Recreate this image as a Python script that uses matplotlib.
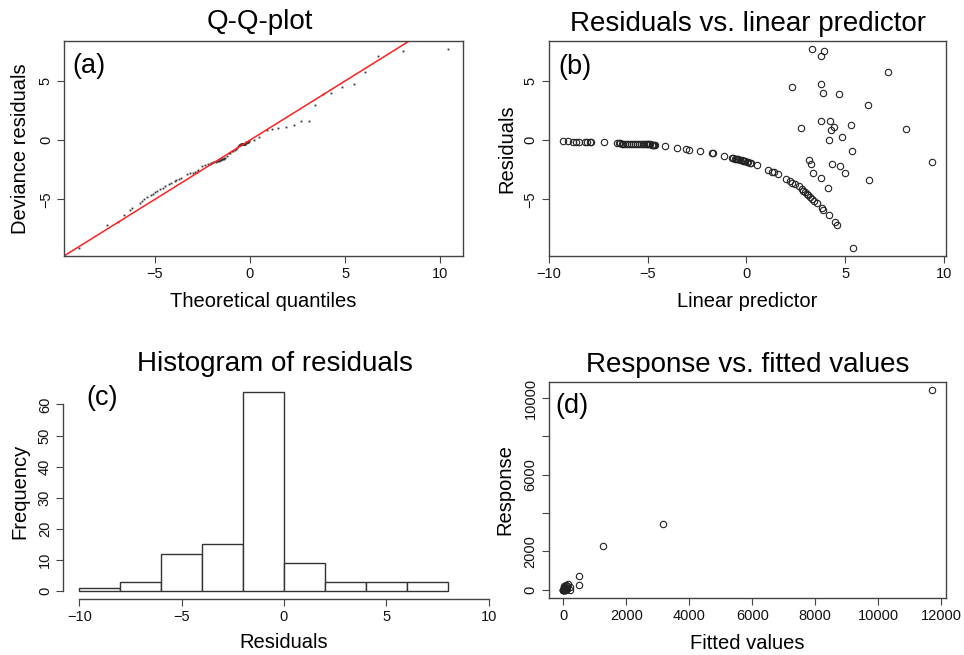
import numpy as np
import matplotlib
matplotlib.use("Agg")
import matplotlib.pyplot as plt

plt.rcParams['font.family'] = ['Liberation Sans', 'DejaVu Sans']

# linear predictor and deviance residuals of the fitted model
eta = [
    -9.26, -9.04, -8.80, -8.62, -8.45, -8.15, -8.05, -7.92, -7.85, -7.22,
    -6.55, -6.45, -6.38, -6.30, -6.22, -6.12, -6.02, -5.95, -5.85, -5.75,
    -5.65, -5.55, -5.45, -5.35, -5.25, -5.18, -5.10, -5.04, -4.98, -4.92,
    -4.86, -4.80, -4.75, -4.70, -4.66, -4.63,
    -4.11, -3.52, -3.05, -2.88, -2.34, -1.74, -1.70, -1.13,
    -0.72, -0.66, -0.58, -0.52, -0.45, -0.40, -0.30, -0.23, -0.18, -0.12,
    -0.05, 0.02, 0.10, 0.19, 0.26,
    0.52, 1.08, 1.28, 1.41, 1.62, 2.00, 2.20, 2.29, 2.46, 2.68,
    2.80, 2.88, 2.96, 3.05, 3.14, 3.24, 3.34, 3.44, 3.56, 3.85, 3.90,
    4.19, 4.48, 4.60,
    3.35, 3.91, 3.79, 7.15, 2.31, 3.77, 3.87, 4.71, 6.18, 3.77,
    4.23, 2.78, 4.44, 4.29, 5.29, 8.06, 4.83, 4.21, 5.34, 9.38,
    3.15, 3.28, 4.33, 4.76, 3.40, 4.98, 3.77, 6.20, 4.12, 5.42,
]
resid = [
    -0.10, -0.10, -0.11, -0.11, -0.12, -0.12, -0.12, -0.13, -0.13, -0.17,
    -0.26, -0.27, -0.27, -0.28, -0.28, -0.29, -0.29, -0.30, -0.30, -0.31,
    -0.31, -0.32, -0.32, -0.33, -0.33, -0.34, -0.34, -0.35, -0.35, -0.36,
    -0.36, -0.37, -0.38, -0.39, -0.40, -0.41,
    -0.52, -0.66, -0.76, -0.79, -0.92, -1.10, -1.12, -1.32,
    -1.48, -1.52, -1.55, -1.57, -1.60, -1.62, -1.66, -1.70, -1.72, -1.75,
    -1.78, -1.82, -1.86, -1.90, -1.93,
    -2.10, -2.52, -2.66, -2.72, -2.89, -3.28, -3.45, -3.60, -3.70, -3.90,
    -4.15, -4.28, -4.40, -4.52, -4.66, -4.82, -4.97, -5.12, -5.28, -5.72, -5.86,
    -6.28, -6.89, -7.12,
    7.70, 7.53, 7.11, 5.79, 4.49, 4.78, 3.96, 3.90, 2.98, 1.66,
    1.66, 1.07, 1.15, 0.87, 1.32, 0.93, 0.28, 0.05, -0.87, -1.80,
    -1.69, -1.99, -1.99, -2.16, -2.78, -2.78, -3.20, -3.37, -4.07, -9.10,
]

# theoretical quantiles, one per sorted residual
qq_theory = [
    -8.99, -7.50, -6.94, -6.59, -6.31, -6.22, -5.79, -5.66, -5.58, -5.40,
    -5.20, -5.09, -5.00, -4.88, -4.70, -4.55, -4.45, -4.25, -4.12, -3.95,
    -3.86, -3.70, -3.60, -3.33, -3.15, -2.98, -2.90, -2.80, -2.70, -2.54,
    -2.35, -2.20, -2.12, -2.05, -1.98, -1.92, -1.86, -1.80, -1.74, -1.68,
    -1.62, -1.58, -1.55, -1.52, -1.48, -1.45, -1.42, -1.38, -1.34, -1.30,
    -1.22, -1.12, -1.05, -0.95, -0.88, -0.80, -0.74, -0.68, -0.62,
    -0.55, -0.54, -0.52, -0.51, -0.50, -0.48, -0.47, -0.46, -0.44, -0.43,
    -0.42, -0.40, -0.39, -0.38, -0.36, -0.35, -0.34, -0.32, -0.31, -0.30,
    -0.28, -0.27, -0.26, -0.24, -0.22, -0.20,
    -0.19, -0.17, -0.16, -0.14, -0.13, -0.11, -0.10, -0.08, -0.07, -0.05,
    0.19, 0.50, 0.89, 1.15, 1.50, 1.90, 2.30, 2.70, 3.08, 3.40,
    3.83, 4.25, 4.83, 5.49, 6.05, 6.71, 8.02, 10.42,
]

hist_breaks = [-10, -8, -6, -4, -2, 0, 2, 4, 6, 8]

# fitted values and observed response
fitted_vals = [11700, 3150, 1270, 490, 490, 221, 210, 130, 115, 100,
               95, 85, 70, 60, 50, 45, 40, 30, 28, 20,
               15, 10, 8, 5, 3, 2, 1, 0.5, 0.2, 0.1]
response_vals = [10400, 3450, 2300, 740, 250, 0, 150, 290, 180, 60,
                 0, 230, 110, 0, 150, 70, 0, 200, 90, 0,
                 120, 60, 0, 30, 0, 10, 0, 0, 0, 0]

W, H = 964, 655
fig = plt.figure(figsize=(W / 100, H / 100), dpi=100)


def px_axes(l, t, r, b):
    return fig.add_axes([l / W, 1 - b / H, (r - l) / W, (b - t) / H])


def r_lim(v, f=0.04):
    lo, hi = np.min(v), np.max(v)
    d = (hi - lo) * f
    return lo - d, hi + d


def style(ax, box=True):
    for s in ax.spines.values():
        s.set_color('#444444')
        s.set_linewidth(1.0)
        s.set_visible(box)
    ax.tick_params(direction='out', length=5, width=0.8, color='#444444',
                   labelsize=10.5, pad=3, labelcolor='#111111')
    for lab in ax.get_yticklabels():
        lab.set_rotation(90)
        lab.set_va('center')


def labels(ax, title, xlab, ylab, tag, tag_xy, title_y=1.05, title_x=0.5,
           xlab_y=-0.235, ylab_x=-0.108):
    ax.set_title(title, fontsize=20, x=title_x, y=title_y, pad=0, va='baseline')
    ax.set_xlabel(xlab, fontsize=14.5, va='baseline')
    ax.xaxis.set_label_coords(0.5, xlab_y)
    ax.set_ylabel(ylab, fontsize=14.5, va='center')
    ax.yaxis.set_label_coords(ylab_x, 0.5)
    ax.text(tag_xy[0], tag_xy[1], tag, transform=ax.transAxes, fontsize=19.5,
            ha='left', va='center')


# (a) Q-Q plot of deviance residuals
qq_sample = np.sort(resid)
ax = px_axes(64, 41, 463, 256)
ax.plot(qq_theory, qq_sample, 's', ms=1.3, color='#333333', mew=0)
ax.axline((0, 0), slope=1, color='#ff2020', lw=1.1)
ax.set_xlim(r_lim(qq_theory))
ax.set_ylim(r_lim(qq_sample))
ax.set_xticks([-5, 0, 5, 10])
ax.set_yticks([-5, 0, 5])
style(ax)
labels(ax, 'Q-Q-plot', 'Theoretical quantiles', 'Deviance residuals', '(a)',
       (0.022, 0.885), title_y=1.056, title_x=0.491)

# (b) residuals against linear predictor
ax = px_axes(548.7, 41, 946.3, 256)
ax.plot(eta, resid, 'o', ms=4.6, mfc='none', mec='#222222', mew=0.8)
ax.set_xlim(r_lim(eta))
ax.set_ylim(r_lim(resid))
ax.set_xticks([-10, -5, 0, 5, 10])
ax.set_yticks([-5, 0, 5])
style(ax)
labels(ax, 'Residuals vs. linear predictor', 'Linear predictor', 'Residuals',
       '(b)', (0.025, 0.88), title_y=1.047, ylab_x=-0.106)

# (c) histogram of residuals
ax = px_axes(63, 384, 505, 599)
ax.hist(resid, bins=hist_breaks, color='white', edgecolor='#333333', lw=1.0)
ax.set_xlim(r_lim([-10, 10]))
ax.set_ylim(r_lim([0, 64]))
ax.set_xticks([-10, -5, 0, 5, 10])
ax.set_yticks(np.arange(0, 61, 10))
style(ax, box=False)
ax.spines['left'].set_visible(True)
ax.spines['bottom'].set_visible(True)
ax.spines['left'].set_bounds(0, 60)
ax.spines['bottom'].set_bounds(-10, 10)
labels(ax, 'Histogram of residuals', 'Residuals', 'Frequency', '(c)',
       (0.052, 0.935), title_y=1.062, title_x=0.48, xlab_y=-0.226,
       ylab_x=-0.097)

# (d) response against fitted values
ax = px_axes(548.7, 382.3, 946.3, 597.7)
ax.plot(fitted_vals, response_vals, 'o', ms=4.6, mfc='none', mec='#222222',
        mew=0.8)
ax.set_xlim(r_lim(fitted_vals))
ax.set_ylim(r_lim(response_vals))
ax.set_xticks(np.arange(0, 12001, 2000))
ax.set_yticks(np.arange(0, 10001, 2000))
ax.set_yticklabels(['0', '2000', '', '6000', '', '10000'])
style(ax)
labels(ax, 'Response vs. fitted values', 'Fitted values', 'Response', '(d)',
       (0.016, 0.89), title_y=1.049, xlab_y=-0.24, ylab_x=-0.11)

fig.savefig('out.png', dpi=100)
